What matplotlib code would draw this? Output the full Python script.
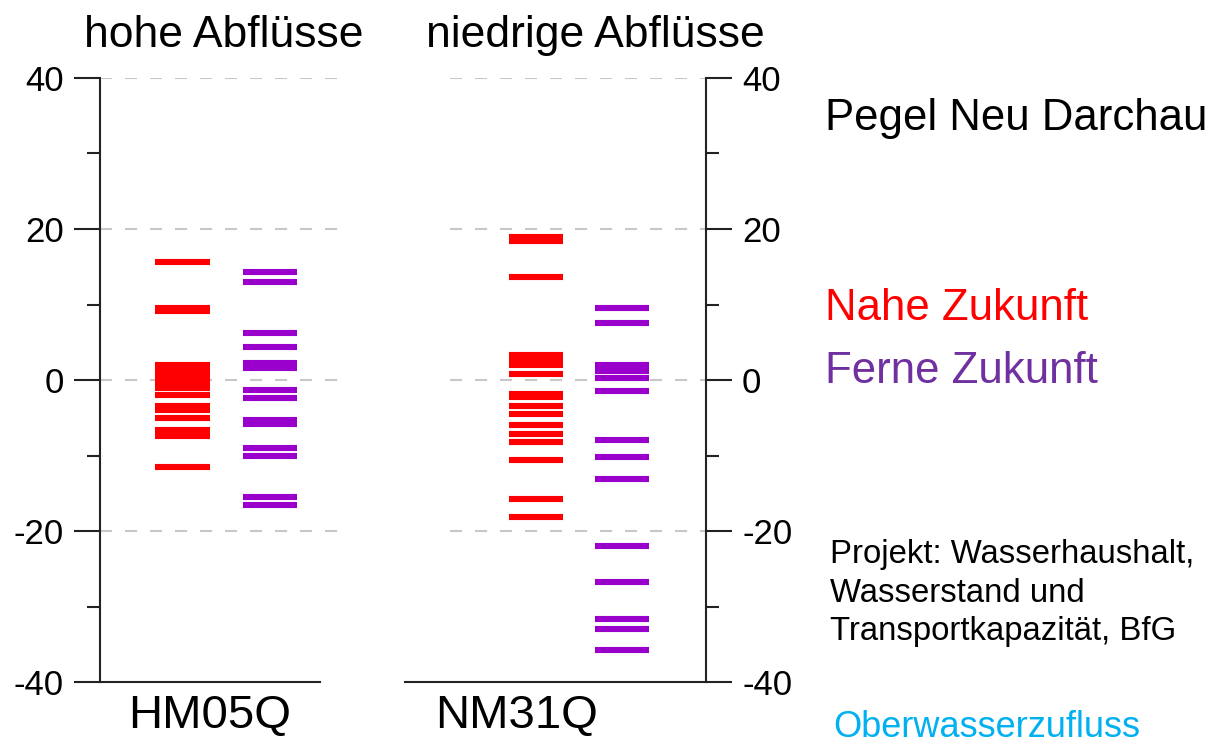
import numpy as np
import matplotlib.pyplot as plt
from matplotlib.ticker import MultipleLocator

plt.rcParams['font.family'] = ['Liberation Sans', 'DejaVu Sans']
plt.rcParams['axes.unicode_minus'] = False

# Änderung in % je Modelllauf
hm05q_nahe = [15.6, 9.6, 9.2, 2.0, 1.2, 0.4, -0.3, -1.1, -2.0, -3.4, -4.0, -5.0, -6.6, -7.4, -11.5]
hm05q_ferne = [14.3, 13.0, 6.2, 4.4, 2.2, 1.6, -1.3, -2.4, -5.3, -5.8, -9.0, -10.1, -15.5, -16.6]
nm31q_nahe = [18.9, 18.4, 13.6, 3.3, 2.8, 2.0, 0.75, -1.9, -2.3, -3.4, -4.5, -6.0, -7.2, -8.2,
              -10.6, -15.8, -18.2]
nm31q_ferne = [9.5, 7.5, 2.0, 1.2, 0.3, -1.5, -7.9, -10.2, -13.1, -22.0, -26.8, -31.6, -33.0, -35.8]

titles = ['hohe Abflüsse', 'niedrige Abflüsse']
kennwerte = ['HM05Q', 'NM31Q']

red = '#ff0000'
purple = '#9900cc'
W, H = 1218, 745


def px(x, y):
    return x / W, 1 - y / H


fig = plt.figure(figsize=(W / 100, H / 100), dpi=100)

# axes: x in pixels 100-350 (left) and 405-706 (right), y 78-682
ax1 = fig.add_axes([100 / W, 1 - 682 / H, 250 / W, 604 / H])
ax2 = fig.add_axes([405 / W, 1 - 682 / H, 301 / W, 604 / H])

half = 0.314
dash = (0, (5.8, 6.2))

for ax, nahe, ferne in [(ax1, hm05q_nahe, hm05q_ferne), (ax2, nm31q_nahe, nm31q_ferne)]:
    ax.set_ylim(-40, 40)
    ax.hlines(nahe, 1 - half, 1 + half, colors=red, lw=4.4)
    ax.hlines(ferne, 2 - half, 2 + half, colors=purple, lw=4.4)
    ax.yaxis.set_major_locator(MultipleLocator(20))
    ax.yaxis.set_minor_locator(MultipleLocator(10))
    ax.tick_params(axis='y', which='major', direction='out', length=19, width=1.5,
                   labelsize=25, pad=7, color='#222222')
    ax.tick_params(axis='y', which='minor', direction='out', length=9.5, width=1.5,
                   color='#222222')
    ax.set_xticks([])
    for s in ax.spines.values():
        s.set_color('#222222')
        s.set_linewidth(1.5)
    ax.spines['top'].set_visible(False)

# left panel
ax1.set_xlim(0.057, 2.914)
ax1.spines['right'].set_visible(False)
ax1.spines['bottom'].set_bounds(0.057, 2.571)
ax1.hlines([-20, 0, 20, 40], 0.057, 2.914, colors='#c8c8c8', lw=1.5, linestyles=[dash], zorder=0)

# right panel
ax2.set_xlim(-0.523, 2.977)
ax2.spines['left'].set_visible(False)
ax2.yaxis.tick_right()
ax2.yaxis.set_label_position('right')
ax2.hlines([-20, 0, 20, 40], 0.0, 2.977, colors='#c8c8c8', lw=1.5, linestyles=[dash], zorder=0)

# titles and Kennwerte
fig.text(*px(224, 47), titles[0], fontsize=32, ha='center', va='baseline')
fig.text(*px(595, 47), titles[1], fontsize=32, ha='center', va='baseline')
fig.text(*px(210, 728), kennwerte[0], fontsize=34, ha='center', va='baseline')
fig.text(*px(517, 728), kennwerte[1], fontsize=34, ha='center', va='baseline')

# annotations on the right
fig.text(*px(825, 130), 'Pegel Neu Darchau', fontsize=31.5, va='baseline')
fig.text(*px(825, 320), 'Nahe Zukunft', fontsize=31.5, color=red, va='baseline')
fig.text(*px(825, 383), 'Ferne Zukunft', fontsize=31.5, color='#7030a0', va='baseline')
fig.text(*px(830, 563), 'Projekt: Wasserhaushalt,', fontsize=23.7, va='baseline')
fig.text(*px(830, 602), 'Wasserstand und', fontsize=23.7, va='baseline')
fig.text(*px(830, 640), 'Transportkapazität, BfG', fontsize=23.7, va='baseline')
fig.text(*px(833, 737), 'Oberwasserzufluss', fontsize=26, color='#00b0f0', va='baseline')

fig.savefig('out.png', dpi=100)
